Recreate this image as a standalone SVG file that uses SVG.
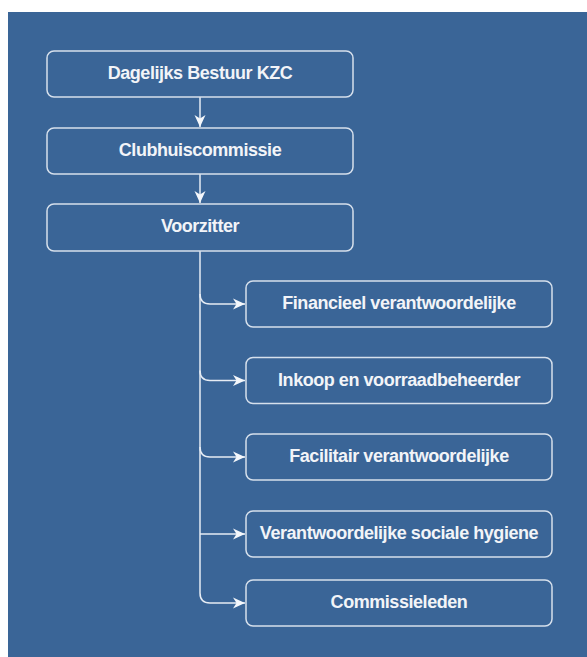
<svg xmlns="http://www.w3.org/2000/svg" width="587" height="657" viewBox="0 0 587 657">
<style>
.box{fill:#3a6597;stroke:#d6e0ec;stroke-width:1.5}
.lbl{font-family:"Liberation Sans",Arial,sans-serif;font-weight:bold;font-size:18px;fill:#f2f4f8;text-anchor:middle;letter-spacing:-0.45px}
.edge{fill:none;stroke:#e6ecf4;stroke-width:1.5}
</style>
<defs>
<marker id="arr" markerWidth="14" markerHeight="14" viewBox="0 0 14 14" refX="13" refY="7" orient="auto" markerUnits="userSpaceOnUse">
<path d="M1,1.5 L13,7 L1,12.5 L4.5,7 Z" fill="#f4f7fb"/>
</marker>
</defs>
<rect x="0" y="0" width="587" height="657" fill="#ffffff"/>
<rect x="8" y="12" width="579" height="645" fill="#3a6597"/>
<g id="connectors">
<path class="edge" d="M200,97 L200,127" marker-end="url(#arr)"/>
<path class="edge" d="M200,174 L200,203" marker-end="url(#arr)"/>
<path class="edge" d="M200,251 L200,593"/>
<path class="edge" d="M200,294 Q200,304 210,304 L245,304" marker-end="url(#arr)"/>
<path class="edge" d="M200,370.5 Q200,380.5 210,380.5 L245,380.5" marker-end="url(#arr)"/>
<path class="edge" d="M200,447 Q200,457 210,457 L245,457" marker-end="url(#arr)"/>
<path class="edge" d="M200,534 L245,534" marker-end="url(#arr)"/>
<path class="edge" d="M200,593 Q200,603 210,603 L245,603" marker-end="url(#arr)"/>
</g>
<g id="n1"><rect class="box" x="47" y="51" width="306" height="46" rx="7"/><text class="lbl" x="200" y="79">Dagelijks Bestuur KZC</text></g>
<g id="n2"><rect class="box" x="47" y="128" width="306" height="46" rx="7"/><text class="lbl" x="200" y="156">Clubhuiscommissie</text></g>
<g id="n3"><rect class="box" x="47" y="204" width="306" height="47" rx="7"/><text class="lbl" x="200" y="232">Voorzitter</text></g>
<g id="n4"><rect class="box" x="246" y="281" width="306" height="46" rx="7"/><text class="lbl" x="399" y="309">Financieel verantwoordelijke</text></g>
<g id="n5"><rect class="box" x="246" y="357.5" width="306" height="46" rx="7"/><text class="lbl" x="399" y="385.5">Inkoop en voorraadbeheerder</text></g>
<g id="n6"><rect class="box" x="246" y="434" width="306" height="46" rx="7"/><text class="lbl" x="399" y="462">Facilitair verantwoordelijke</text></g>
<g id="n7"><rect class="box" x="246" y="511" width="306" height="46" rx="7"/><text class="lbl" x="399" y="539">Verantwoordelijke sociale hygiene</text></g>
<g id="n8"><rect class="box" x="246" y="580" width="306" height="46" rx="7"/><text class="lbl" x="399" y="608">Commissieleden</text></g>
</svg>
